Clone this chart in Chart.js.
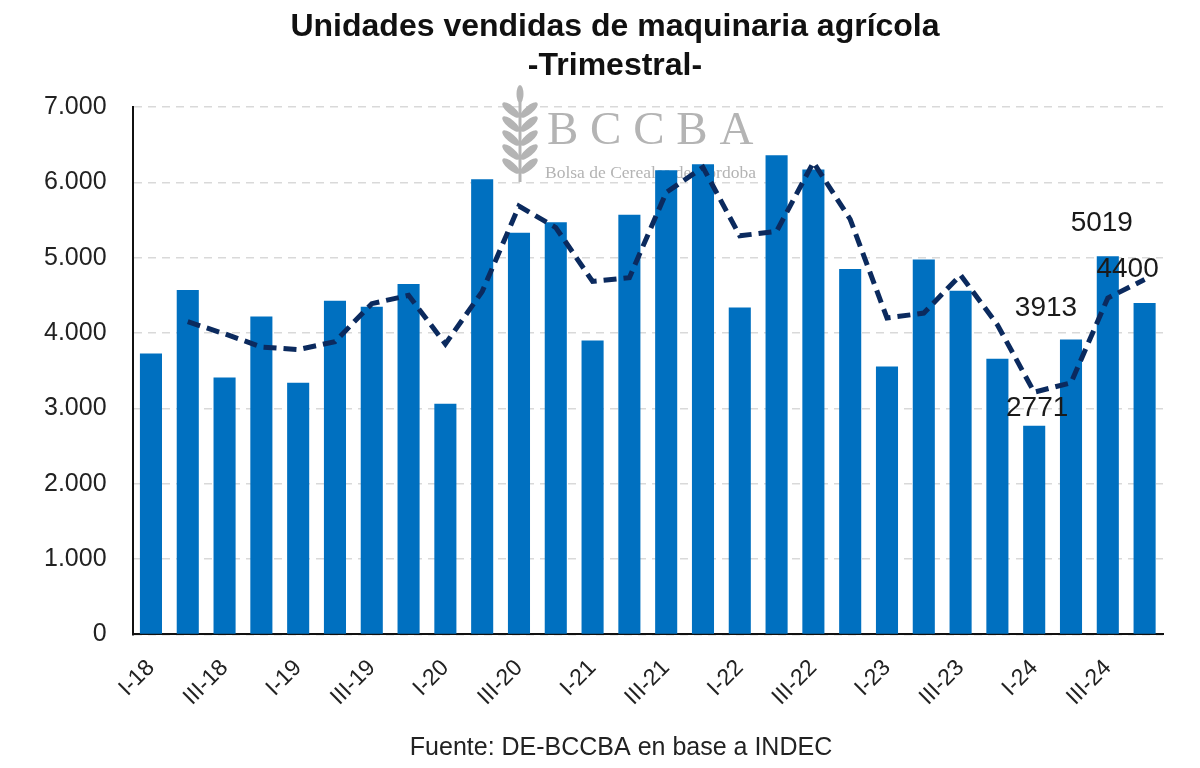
<!DOCTYPE html>
<html lang="es">
<head>
  <meta charset="UTF-8">
  <title>Unidades vendidas de maquinaria agrícola</title>
  <script src="https://cdn.jsdelivr.net/npm/chart.js"></script>
  <style>
    body {
      margin: 0;
      background: #fff;
    }
    canvas {
      display: block;
    }
  </style>
</head>
<body>
  <canvas id="chart" width="1200" height="768"></canvas>
  <script>
    const quarters = [
      'I-18', 'II-18', 'III-18', 'IV-18',
      'I-19', 'II-19', 'III-19', 'IV-19',
      'I-20', 'II-20', 'III-20', 'IV-20',
      'I-21', 'II-21', 'III-21', 'IV-21',
      'I-22', 'II-22', 'III-22', 'IV-22',
      'I-23', 'II-23', 'III-23', 'IV-23',
      'I-24', 'II-24', 'III-24', 'IV-24'
    ];

    // units sold per quarter (bars)
    const units = [
      3730, 4570, 3410, 4220,
      3340, 4430, 4350, 4650,
      3060, 6040, 5330, 5470,
      3900, 5570, 6160, 6240,
      4340, 6360, 6170, 4850,
      3555, 4976, 4560, 3660,
      2771, 3913, 5019, 4400
    ];

    // dashed trend line (starts at II-18)
    const trend = [
      null, 4150, 3990, 3815,
      3780, 3885, 4390, 4500,
      3855, 4550, 5685, 5400,
      4685, 4735, 5865, 6200,
      5290, 5350, 6265, 5510,
      4200, 4265, 4770, 4110,
      3215, 3340, 4465, 4710
    ];

    const yTicks = [0, 1000, 2000, 3000, 4000, 5000, 6000, 7000];

    const titleLines = ['Unidades vendidas de maquinaria agrícola', '-Trimestral-'];
    const source = 'Fuente: DE-BCCBA en base a INDEC';

    const fmt = v => String(v).replace(/\B(?=(\d{3})+(?!\d))/g, '.');

    // labels for the last four bars, nudged like in the original
    const labelNudge = { 24: [3, -17], 25: [-25, -31], 26: [-6, -33], 27: [-17, -34] };

    const extras = {
      id: 'extras',
      beforeDatasetsDraw(chart) {
        const c = chart.ctx;
        c.save();
        // faint BCCBA watermark
        c.fillStyle = '#b4b4b4';
        c.strokeStyle = '#b4b4b4';
        c.lineWidth = 3;
        c.beginPath();
        c.moveTo(520, 182);
        c.lineTo(520, 92);
        c.stroke();
        for (let k = 0; k < 5; k++) {
          const y = 110 + k * 14;
          [-1, 1].forEach(s => {
            c.beginPath();
            c.ellipse(520 + s * 9, y, 11, 4, s * -0.7, 0, Math.PI * 2);
            c.fill();
          });
        }
        c.beginPath();
        c.ellipse(520, 94, 3.5, 9, 0, 0, Math.PI * 2);
        c.fill();
        c.font = '47px "Liberation Serif", "DejaVu Serif", serif';
        c.textAlign = 'left';
        c.textBaseline = 'middle';
        c.fillText('B C C B A', 547, 132);
        c.font = '17.5px "Liberation Serif", "DejaVu Serif", serif';
        c.fillText('Bolsa de Cereales de Córdoba', 545, 173);
        c.restore();
      },
      afterDatasetsDraw(chart) {
        const c = chart.ctx;
        const meta = chart.getDatasetMeta(0);
        c.save();
        c.font = '28px "Liberation Sans", Arial, sans-serif';
        c.fillStyle = '#1a1a1a';
        c.textAlign = 'center';
        c.textBaseline = 'middle';
        Object.keys(labelNudge).forEach(i => {
          const bar = meta.data[i];
          const [dx, dy] = labelNudge[i];
          c.fillText(String(units[i]), bar.x + dx, bar.y + dy);
        });
        c.restore();
      },
      afterDraw(chart) {
        // title and source sit slightly right of the canvas centre in the original
        const c = chart.ctx;
        c.save();
        c.textAlign = 'center';
        c.textBaseline = 'middle';
        c.fillStyle = '#111';
        c.font = 'bold 32px "Liberation Sans", Arial, sans-serif';
        c.fillText(titleLines[0], 615, 27);
        c.fillText(titleLines[1], 615, 66);
        c.fillStyle = '#222';
        c.font = '25px "Liberation Sans", Arial, sans-serif';
        c.fillText(source, 621, 748);
        c.restore();
      }
    };

    new Chart(document.getElementById('chart'), {
      data: {
        labels: quarters,
        datasets: [
          {
            type: 'bar',
            label: 'Unidades',
            data: units,
            backgroundColor: '#0070C0',
            categoryPercentage: 1,
            barPercentage: 0.6,
            order: 1
          },
          {
            type: 'line',
            label: 'Tendencia',
            data: trend,
            borderColor: '#0B2A5E',
            borderWidth: 5,
            borderDash: [13, 7],
            pointRadius: 0,
            fill: false,
            tension: 0,
            order: 0
          }
        ]
      },
      plugins: [extras],
      options: {
        responsive: false,
        animation: false,
        layout: { padding: { left: 18, right: 37, top: 107, bottom: 37 } },
        scales: {
          x: {
            grid: { display: false, drawTicks: false },
            border: { color: '#111', width: 2 },
            ticks: {
              autoSkip: false,
              minRotation: 45,
              maxRotation: 45,
              padding: 20,
              color: '#222',
              font: { family: '"Liberation Sans", Arial, sans-serif', size: 23 },
              callback: (v, i) => (i % 2 === 0 ? quarters[i] : '')
            }
          },
          y: {
            min: 0,
            max: 7000,
            afterBuildTicks: axis => { axis.ticks = yTicks.map(v => ({ value: v })); },
            grid: { color: '#d9d9d9', lineWidth: 1.5, drawTicks: false },
            border: { color: '#111', width: 2, dash: [8, 6] },
            ticks: {
              padding: 26,
              color: '#222',
              font: { family: '"Liberation Sans", Arial, sans-serif', size: 25 },
              callback: v => fmt(v)
            }
          }
        },
        plugins: {
          legend: { display: false },
          tooltip: { enabled: false },
          title: { display: false },
          subtitle: { display: false }
        }
      }
    });
  </script>
</body>
</html>
